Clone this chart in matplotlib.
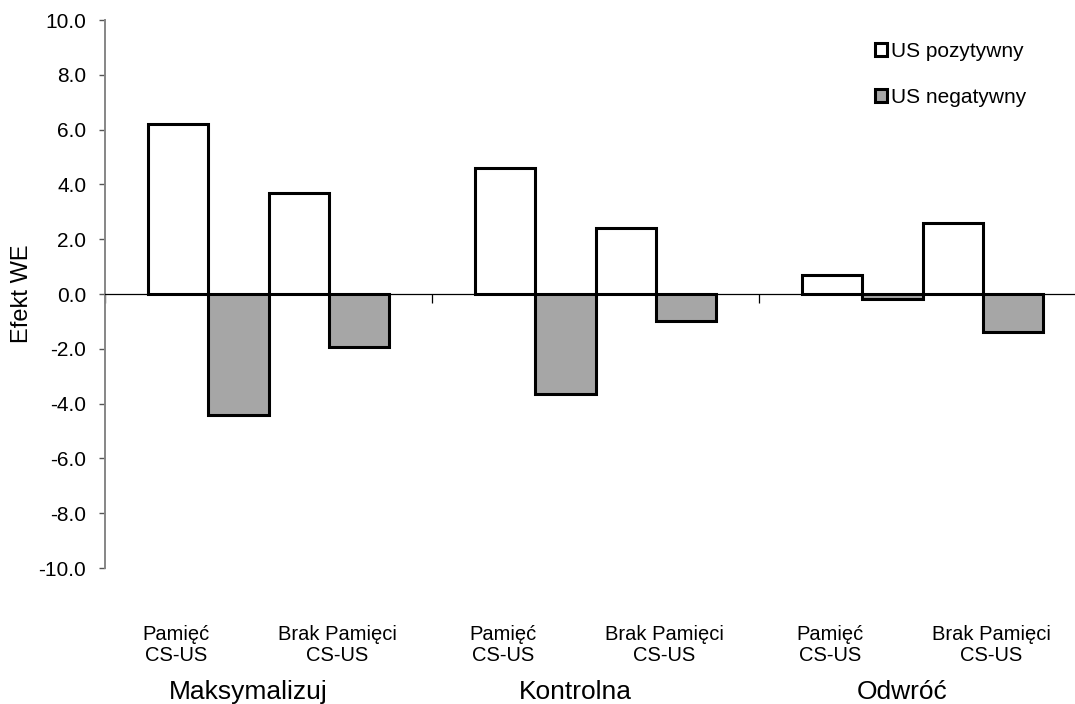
import numpy as np
import matplotlib
matplotlib.use('Agg')
import matplotlib.pyplot as plt
from matplotlib.patches import Patch
from matplotlib import rcParams

rcParams['font.family'] = ['Liberation Sans', 'DejaVu Sans']
rcParams['axes.unicode_minus'] = False

## Data
groups = ['Maksymalizuj', 'Kontrolna', 'Odwróć']
conditions = ['Pamięć\nCS-US', 'Brak Pamięci\nCS-US']
series = ['US pozytywny', 'US negatywny']
# values per group: [Pamięć, Brak Pamięci]
us_pos = [[6.2, 3.7], [4.6, 2.4], [0.7, 2.6]]
us_neg = [[-4.4, -1.95], [-3.65, -1.0], [-0.2, -1.4]]
yticks = np.arange(-10, 10.1, 2)

fig = plt.figure(figsize=(10.75, 7.04), dpi=100, facecolor='white')
ax = fig.add_axes([105/1075, 1-568/704, 981/1075, 548/704])

w = 0.1835
gx = np.arange(len(groups))
pos = np.array(us_pos)
neg = np.array(us_neg)
bar_kw = dict(width=w, edgecolor='black', linewidth=2.2, zorder=3)
for j in range(len(conditions)):
    off = (-1.5 + 2*j) * w
    ax.bar(gx + off, pos[:, j], color='white', **bar_kw)
    ax.bar(gx + off + w, neg[:, j], color='#a6a6a6', **bar_kw)

ax.set_xlim(-0.5, len(groups) - 0.5)
ax.set_ylim(-10, 10)
ax.set_yticks(yticks)
ax.set_yticklabels(['%.1f' % v for v in yticks], fontsize=15)
ax.set_ylabel('Efekt WE', fontsize=17)
ax.yaxis.set_label_coords(-0.073, 0.5)

# zero line acts as the x axis
ax.spines['top'].set_visible(False)
ax.spines['right'].set_visible(False)
ax.spines['bottom'].set_position(('data', 0))
ax.spines['bottom'].set_linewidth(0.9)
ax.spines['bottom'].set_zorder(4)
ax.spines['left'].set_color('#868686')
ax.spines['left'].set_linewidth(1.4)
ax.set_xticks(np.arange(-0.5, len(groups), 1.0))
ax.tick_params(axis='x', direction='out', length=6.5, width=0.9, labelbottom=False)
ax.tick_params(axis='y', direction='out', length=4.5, width=1.0, color='#555555', pad=9)

# category labels under the plot
tr = ax.get_xaxis_transform()
for g in gx:
    ax.text(g - 0.284, -0.14, conditions[0], transform=tr, ha='center', va='center',
            fontsize=14.5, linespacing=1.15)
    ax.text(g + 0.211, -0.14, conditions[1], transform=tr, ha='center', va='center',
            fontsize=14.5, linespacing=1.15)
    ax.text(g - 0.061, -0.227, groups[g], transform=tr, ha='center', va='center', fontsize=19)

handles = [Patch(facecolor='white', edgecolor='black', linewidth=2.2),
           Patch(facecolor='#a6a6a6', edgecolor='black', linewidth=2.2)]
leg = ax.legend(handles, series, loc='upper left', bbox_to_anchor=(762/981, 0.975),
                frameon=False, fontsize=15, handlelength=0.55, handleheight=0.55,
                handletextpad=0.2, labelspacing=1.3, borderaxespad=0)

fig.savefig('out.png', dpi=100, facecolor='white')
